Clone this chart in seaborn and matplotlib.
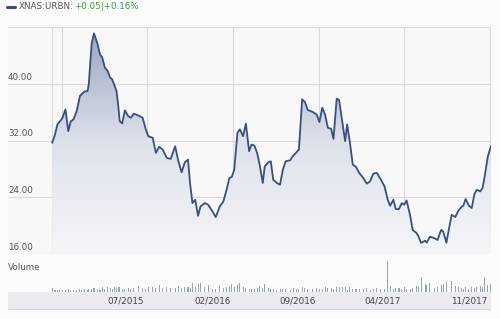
import numpy as np
import pandas as pd
import matplotlib
matplotlib.use("Agg")
import matplotlib.pyplot as plt
import matplotlib.dates as mdates
import matplotlib.transforms as mtransforms
from matplotlib.colors import LinearSegmentedColormap
from matplotlib.patches import Polygon
from matplotlib.lines import Line2D
import seaborn as sns

dates = [
    "2014-11-07", "2014-11-14", "2014-11-20", "2014-11-26", "2014-12-02", "2014-12-10", "2014-12-17", "2014-12-23", "2014-12-30", "2015-01-07",
    "2015-01-15", "2015-01-19", "2015-01-26", "2015-02-03", "2015-02-06", "2015-02-13", "2015-02-19", "2015-02-28", "2015-03-06", "2015-03-11",
    "2015-03-18", "2015-03-25", "2015-03-31", "2015-04-05", "2015-04-10", "2015-04-16", "2015-04-20", "2015-04-24", "2015-04-30", "2015-05-07",
    "2015-05-15", "2015-05-22", "2015-05-29", "2015-06-09", "2015-06-20", "2015-06-28", "2015-07-04", "2015-07-15", "2015-07-23", "2015-07-31",
    "2015-08-09", "2015-08-19", "2015-08-29", "2015-09-09", "2015-09-17", "2015-09-25", "2015-10-03", "2015-10-11", "2015-10-16", "2015-10-22",
    "2015-10-29", "2015-11-05", "2015-11-11", "2015-11-22", "2015-11-30", "2015-12-11", "2015-12-19", "2015-12-29", "2016-01-07", "2016-01-15",
    "2016-01-22", "2016-01-28", "2016-02-03", "2016-02-11", "2016-02-17", "2016-02-25", "2016-03-03", "2016-03-11", "2016-03-17", "2016-03-24",
    "2016-03-31", "2016-04-07", "2016-04-14", "2016-04-19", "2016-04-28", "2016-05-04", "2016-05-10", "2016-05-19", "2016-05-27", "2016-06-03",
    "2016-06-10", "2016-06-21", "2016-06-29", "2016-07-07", "2016-07-13", "2016-07-21", "2016-07-28", "2016-08-04", "2016-08-15", "2016-08-26",
    "2016-09-02", "2016-09-09", "2016-09-16", "2016-09-23", "2016-10-01", "2016-10-07", "2016-10-15", "2016-10-21", "2016-10-30", "2016-11-05",
    "2016-11-10", "2016-11-17", "2016-11-24", "2016-12-02", "2016-12-10", "2016-12-20", "2016-12-29", "2017-01-06", "2017-01-14", "2017-01-23",
    "2017-02-02", "2017-02-11", "2017-02-19", "2017-02-25", "2017-03-05", "2017-03-11", "2017-03-19", "2017-03-26", "2017-04-01", "2017-04-07",
    "2017-04-16", "2017-04-22", "2017-05-02", "2017-05-06", "2017-05-13", "2017-05-23", "2017-05-27", "2017-06-04", "2017-06-15", "2017-06-23",
    "2017-07-02", "2017-07-07", "2017-07-15", "2017-07-28", "2017-08-06", "2017-08-14", "2017-08-21", "2017-08-26", "2017-09-01", "2017-09-09",
    "2017-09-16", "2017-09-23", "2017-09-29", "2017-10-07", "2017-10-13", "2017-10-19", "2017-10-26", "2017-11-03",
]

prices = [
    31.67, 32.85, 34.27, 34.69, 35.11, 36.39, 33.32, 34.69, 34.97, 36.15,
    38.27, 38.51, 38.90, 38.98, 39.93, 45.59, 47.11, 45.59, 44.08, 43.80,
    42.29, 41.81, 40.88, 40.64, 39.93, 38.98, 37.10, 34.73, 34.41, 36.25,
    35.44, 35.21, 35.78, 35.54, 35.21, 33.56, 32.61, 32.38, 30.26, 31.11,
    30.73, 29.55, 29.41, 31.19, 29.07, 27.51, 28.93, 29.31, 26.01, 23.18,
    23.65, 21.38, 22.70, 23.18, 22.94, 21.99, 21.20, 22.70, 23.41, 25.06,
    26.72, 26.86, 27.89, 33.09, 33.56, 32.61, 34.36, 30.49, 31.43, 31.29,
    30.26, 28.36, 26.01, 28.36, 28.93, 29.07, 26.48, 26.01, 25.77, 27.89,
    29.07, 29.21, 29.88, 30.34, 30.73, 37.81, 37.42, 36.29, 36.06, 35.68,
    34.59, 36.63, 35.68, 33.80, 33.66, 32.24, 37.91, 37.71, 34.27, 31.90,
    34.27, 31.67, 28.60, 28.28, 27.43, 26.72, 25.91, 26.24, 27.33, 27.43,
    26.48, 25.53, 23.65, 22.80, 23.65, 22.33, 22.33, 23.18, 22.94, 23.55,
    21.38, 19.40, 18.93, 18.55, 17.56, 17.88, 17.60, 18.45, 18.22, 17.98,
    19.40, 19.16, 17.60, 21.52, 21.20, 22.13, 22.61, 22.80, 23.75, 22.80,
    22.47, 24.50, 25.06, 24.82, 25.30, 27.19, 29.73, 31.22,
]

volumes = [
    2.0, 1.2, 1.0, 0.9, 1.1, 1.0, 1.4, 1.0, 0.9, 1.0,
    1.3, 1.1, 1.6, 1.2, 1.8, 1.4, 2.2, 1.5, 1.2, 2.4,
    1.7, 2.6, 1.9, 1.5, 2.8, 2.0, 2.4, 2.7, 1.6, 1.3,
    2.3, 1.5, 2.1, 3.0, 2.0, 1.4, 2.6, 2.8, 1.9, 3.4,
    2.2, 2.6, 1.9, 2.0, 2.9, 2.2, 2.5, 2.8, 2.2, 4.4,
    2.8, 4.0, 4.5, 2.5, 3.6, 1.7, 1.3, 3.4, 2.0, 2.7,
    3.1, 4.0, 2.4, 3.7, 4.8, 2.8, 2.2, 1.5, 1.8, 1.4,
    2.3, 2.9, 2.0, 4.2, 1.9, 1.3, 1.8, 1.1, 1.3, 1.6,
    1.4, 1.2, 2.2, 1.5, 1.7, 2.4, 1.9, 1.5, 1.4, 2.1,
    1.3, 1.7, 2.5, 2.3, 2.2, 1.5, 2.5, 2.6, 2.8, 2.7,
    1.2, 2.6, 1.5, 1.3, 1.4, 1.6, 1.9, 1.2, 1.7, 2.3,
    1.5, 1.8, 16.0, 3.0, 1.4, 2.0, 2.2, 1.6, 2.6, 1.3,
    1.5, 2.0, 3.0, 2.5, 7.5, 4.0, 3.5, 4.5, 2.2, 2.8,
    3.5, 4.2, 5.0, 5.5, 3.0, 2.5, 2.2, 1.8, 2.4, 1.6,
    2.4, 2.2, 2.5, 3.0, 2.6, 7.5, 3.5, 4.0,
]

y_ticks = [16, 24, 32, 40]
y_grid = [16, 24, 32, 40, 48]
grid_dates = ["2014-12-01", "2015-07-01", "2016-02-01", "2016-09-01", "2017-04-01", "2017-11-01"]
x_tick_dates = ["2015-07-01", "2016-02-01", "2016-09-01", "2017-04-01", "2017-11-01"]
x_tick_labels = ["07/2015", "02/2016", "09/2016", "04/2017", "11/2017"]
legend_symbol = "XNAS:URBN:"
legend_change = "+0.05|+0.16%"

sns.set_theme(style="white")
plt.rcParams["font.family"] = ["DejaVu Sans"]

W, H = 500, 319
LINE = "#3b4e7e"
GRID = "#dadada"
BG = "#f8f8f9"
FS = 6.3


def px(l, t, r, b):
    return [l / W, 1 - b / H, (r - l) / W, (b - t) / H]


fig = plt.figure(figsize=(W / 100, H / 100), dpi=100)
fig.patch.set_facecolor("#fbfbfb")

df = pd.DataFrame({"date": pd.to_datetime(dates), "price": prices, "volume": volumes})
xnum = mdates.date2num(df["date"])
x0 = xnum[0] - 110
x1 = xnum[-1]

# ---- main price panel ----
ax = fig.add_axes(px(8, 27, 491, 254))
ax.set_facecolor(BG)
for s in ax.spines.values():
    s.set_visible(False)

for v in y_grid:
    ax.axhline(v, color=GRID, lw=0.8, zorder=1)
for d in grid_dates:
    ax.axvline(mdates.date2num(pd.Timestamp(d)), color=GRID, lw=0.8, zorder=1)
ax.axvline(xnum[0], color=GRID, lw=0.8, zorder=1)

# gradient fill under the line
verts = [(xnum[0], 16)] + list(zip(xnum, prices)) + [(xnum[-1], 16)]
poly = Polygon(verts, closed=True, facecolor="none", edgecolor="none")
ax.add_patch(poly)
cmap = LinearSegmentedColormap.from_list("fade", ["#f5f6f9", "#dde1ea", "#98a3bf"])
grad = np.linspace(0, 1, 256).reshape(-1, 1)
im = ax.imshow(grad, extent=[x0, x1, 16, 48], origin="lower", aspect="auto",
               cmap=cmap, zorder=2, interpolation="bilinear")
im.set_clip_path(poly)

sns.lineplot(data=df, x="date", y="price", ax=ax, color=LINE, lw=1.3, zorder=3,
             legend=False, estimator=None, sort=False)

ax.set_xlim(x0, x1)
ax.set_ylim(16, 48)
ax.set_xticks([])
ax.set_yticks([])
ax.set_xlabel("")
ax.set_ylabel("")

ytrans = mtransforms.blended_transform_factory(ax.transAxes, ax.transData)
ytrans = mtransforms.offset_copy(ytrans, x=0, y=2, units="dots")
for v in y_ticks:
    ax.text(0.0, v, f"{v:.2f}", transform=ytrans, ha="left", va="bottom",
            fontsize=FS, color="#555555", zorder=4)

# ---- volume panel ----
axv = fig.add_axes(px(8, 258, 491, 292))
axv.set_facecolor("none")
for s in axv.spines.values():
    s.set_visible(False)
axv.bar(df["date"], df["volume"], width=2.6, color="#98a1bb", linewidth=0)
axv.set_xlim(x0, x1)
axv.set_ylim(0, 17.5)
axv.set_xticks([])
axv.set_yticks([])
fig.text(8 / W, 1 - 267 / H, "Volume", ha="left", va="center", fontsize=FS, color="#555555")

# ---- date band ----
axb = fig.add_axes(px(8, 292, 491, 310))
axb.set_facecolor("#ececf0")
for s in axb.spines.values():
    s.set_visible(False)
axb.axhline(0, color="#d3d3da", lw=1.2)
axb.set_xlim(x0, x1)
axb.set_ylim(0, 1)
axb.set_xticks([])
axb.set_yticks([])
btrans = mtransforms.blended_transform_factory(axb.transData, axb.transAxes)
btrans = mtransforms.offset_copy(btrans, x=-3, y=0, units="dots")
for d, lab in zip(x_tick_dates, x_tick_labels):
    axb.text(mdates.date2num(pd.Timestamp(d)), 0.5, lab, transform=btrans,
             ha="right", va="center", fontsize=FS, color="#444444")

# ---- legend header ----
fig.add_artist(Line2D([7 / W, 15 / W], [1 - 6.7 / H, 1 - 6.7 / H], color=LINE, lw=2.2,
                      transform=fig.transFigure))
t1 = fig.text(19 / W, 1 - 6.7 / H, legend_symbol, ha="left", va="center",
              fontsize=FS, color="#555555")
fig.canvas.draw()
bb = t1.get_window_extent()
fig.text(bb.x1 / W, 1 - 6.7 / H, legend_change, ha="left", va="center",
         fontsize=FS, color="#3c9a3c")

fig.savefig("out.png", dpi=100, facecolor=fig.get_facecolor())
